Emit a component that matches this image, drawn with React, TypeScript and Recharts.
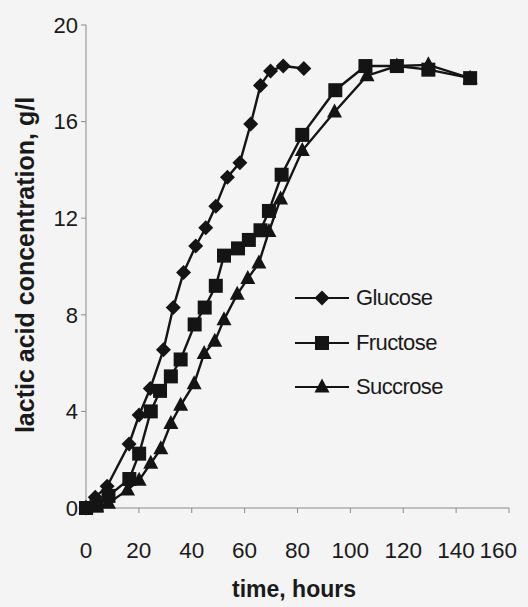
import { LineChart, Line, XAxis, YAxis, Legend, Label } from 'recharts'

const glucoseHours = [0, 3.5, 8, 16.3, 20.1, 24.3, 29.3, 33, 36.9, 41.5, 45.3, 49.1, 53.5, 58.2, 62.3, 66, 69.8, 74.6, 82.4]
const glucoseValues = [0, 0.45, 0.9, 2.65, 3.85, 4.95, 6.55, 8.3, 9.75, 10.85, 11.6, 12.5, 13.7, 14.3, 15.9, 17.5, 18.1, 18.3, 18.2]

const fructoseHours = [0, 4, 8.5, 16.4, 20.1, 24.5, 28, 32.1, 35.8, 41.1, 44.9, 49.1, 52.2, 57.5, 61.6, 66, 69.2, 74, 81.8, 94.3, 105.7, 117.6, 129.5, 145.3]
const fructoseValues = [0, 0.1, 0.5, 1.2, 2.25, 4.0, 4.85, 5.45, 6.15, 7.6, 8.3, 9.2, 10.45, 10.75, 11.1, 11.5, 12.3, 13.8, 15.45, 17.3, 18.3, 18.3, 18.15, 17.8]

const succroseHours = [0, 4, 8.5, 15.7, 20.1, 24.5, 28.3, 32.1, 35.8, 40.9, 44.7, 48.7, 52.2, 57.2, 61.2, 65.4, 69.2, 73.6, 81.8, 94, 106.3, 117.6, 129.5, 145.3]
const succroseValues = [0, 0.05, 0.2, 0.75, 1.15, 1.85, 2.45, 3.5, 4.25, 5.15, 6.4, 6.9, 7.8, 8.85, 9.5, 10.15, 11.45, 12.8, 14.8, 16.4, 17.9, 18.3, 18.35, 17.8]

const xTicks = [0, 20, 40, 60, 80, 100, 120, 140, 160]
const yTicks = [0, 4, 8, 12, 16, 20]

const toRows = (hours: number[], values: number[]) => hours.map((h, i) => ({ x: h, y: values[i] }))

const series = [
  { name: 'Glucose', shape: 'diamond', data: toRows(glucoseHours, glucoseValues) },
  { name: 'Fructose', shape: 'square', data: toRows(fructoseHours, fructoseValues) },
  { name: 'Succrose', shape: 'triangle', data: toRows(succroseHours, succroseValues) },
]

const INK = '#141414'
const TEXT = '#1a1a1a'
const FONT = '"Liberation Sans", Arial, sans-serif'

function Marker({ cx, cy, shape }: { cx: number; cy: number; shape: string }) {
  if (cx == null || cy == null) return null
  if (shape === 'square') {
    return <rect x={cx - 7} y={cy - 7} width={14} height={14} fill={INK} />
  }
  if (shape === 'triangle') {
    return <polygon points={`${cx},${cy - 8.5} ${cx + 7.5},${cy + 5.5} ${cx - 7.5},${cy + 5.5}`} fill={INK} />
  }
  return <polygon points={`${cx},${cy - 7.5} ${cx + 7.5},${cy} ${cx},${cy + 7.5} ${cx - 7.5},${cy}`} fill={INK} />
}

function LegendBox() {
  return (
    <div style={{ fontFamily: FONT, fontSize: 22, color: TEXT }}>
      {series.map((s) => (
        <div key={s.name} style={{ display: 'flex', alignItems: 'center', height: 44.5 }}>
          <svg width={58} height={20}>
            <line x1={2} y1={10} x2={56} y2={10} stroke={INK} strokeWidth={2.2} />
            <Marker cx={29} cy={10} shape={s.shape} />
          </svg>
          <span style={{ marginLeft: 5, letterSpacing: -0.6 }}>{s.name}</span>
        </div>
      ))}
    </div>
  )
}

// excel pulls the last label back inside the chart area
function XTick({ x, y, payload }: any) {
  const last = payload.value === 160
  return (
    <text
      x={last ? x + 8 : x}
      y={y}
      dy="0.71em"
      textAnchor={last ? 'end' : 'middle'}
      fontFamily={FONT}
      fontSize={22.5}
      fill={TEXT}
    >
      {payload.value}
    </text>
  )
}

const yTickStyle = { fontSize: 22, fill: TEXT, fontFamily: FONT }

export default function App() {
  return (
    <div style={{ position: 'absolute', left: 0, top: 0, width: 528, height: 607, background: '#f4f4f4' }}>
      <LineChart width={528} height={607} margin={{ top: 25, right: 19, left: 0, bottom: 0 }}>
        <XAxis
          dataKey="x"
          type="number"
          domain={[0, 160]}
          ticks={xTicks}
          tick={<XTick />}
          tickSize={5}
          tickMargin={29}
          height={99}
          stroke="#8a8a8a"
          allowDuplicatedCategory={false}
        >
          <Label
            content={() => (
              <text x={294} y={589} textAnchor="middle" dominantBaseline="central" fontFamily={FONT} fontSize={23} fontWeight="bold" fill={TEXT}>
                time, hours
              </text>
            )}
          />
        </XAxis>
        <XAxis xAxisId="top" orientation="top" type="number" domain={[0, 160]} height={0} tick={false} tickLine={false} stroke="#a0a0a0" />
        <YAxis
          type="number"
          domain={[0, 20]}
          ticks={yTicks}
          tick={yTickStyle}
          tickSize={5}
          tickMargin={3}
          width={86}
          stroke="#8a8a8a"
        >
          <Label
            content={() => (
              <text x={25} y={265} transform="rotate(-90 25 265)" textAnchor="middle" dominantBaseline="central" fontFamily={FONT} fontSize={25} fontWeight="bold" fill={TEXT}>
                lactic acid concentration, g/l
              </text>
            )}
          />
        </YAxis>
        <YAxis yAxisId="right" orientation="right" type="number" domain={[0, 20]} width={0} tick={false} tickLine={false} stroke="#8a8a8a" />
        {series.map((s) => (
          <Line
            key={s.name}
            data={s.data}
            dataKey="y"
            name={s.name}
            type="linear"
            stroke={INK}
            strokeWidth={2.4}
            isAnimationActive={false}
            dot={(p: any) => <Marker key={`${s.name}-${p.index}`} cx={p.cx} cy={p.cy} shape={s.shape} />}
            activeDot={false}
          />
        ))}
        <Legend
          layout="vertical"
          align="center"
          verticalAlign="middle"
          content={() => <LegendBox />}
          wrapperStyle={{ left: 293, top: 276, width: 200 }}
        />
      </LineChart>
    </div>
  )
}
